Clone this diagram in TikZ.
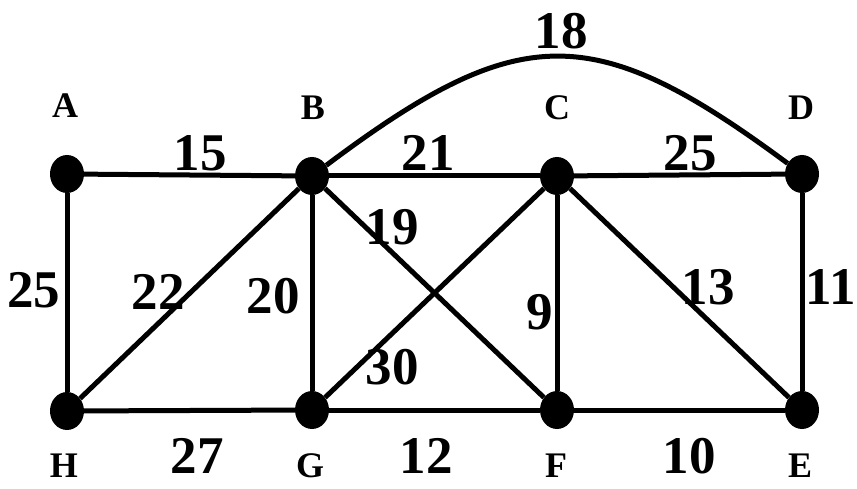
\documentclass[tikz,border=0pt]{standalone}
\usepackage{fontspec}
\setmainfont{Liberation Serif}
\usetikzlibrary{shapes.geometric}
\tikzset{
  vertex/.style={ellipse,fill=black,minimum width=34pt,minimum height=38pt,inner sep=0pt},
  vname/.style={font=\fontsize{36}{36}\selectfont\bfseries,inner sep=0pt},
  weight/.style={font=\fontsize{53}{53}\selectfont\bfseries,inner sep=0pt},
  edge/.style={line width=5pt}
}
\begin{document}
\begin{tikzpicture}[x=1pt,y=-1pt]
    \useasboundingbox (0,0) rectangle (857,489);
    % vertices
    \node[vertex] (a) at (67,174) {};
    \node[vertex] (b) at (312,176) {};
    \node[vertex] (c) at (557,176) {};
    \node[vertex] (d) at (802,174) {};
    \node[vertex] (h) at (67,411) {};
    \node[vertex] (g) at (312,410) {};
    \node[vertex] (f) at (557,410) {};
    \node[vertex] (e) at (802,410) {};
    % vertex names
    \node[vname] (la) at (65,106) {A};
    \node[vname] (lb) at (313,108) {B};
    \node[vname] (lc) at (557,108) {C};
    \node[vname] (ld) at (801,108) {D};
    \node[vname] (lh) at (64,466) {H};
    \node[vname] (lg) at (310,466) {G};
    \node[vname] (lf) at (556,466) {F};
    \node[vname] (le) at (800,466) {E};
    % edges
    \draw[edge] (a) -- (b);
    \draw[edge] (b) -- (c);
    \draw[edge] (c) -- (d);
    \draw[edge] (h) -- (g);
    \draw[edge] (g) -- (f);
    \draw[edge] (f) -- (e);
    \draw[edge] (a) -- (h);
    \draw[edge] (b) -- (g);
    \draw[edge] (c) -- (f);
    \draw[edge] (d) -- (e);
    \draw[edge] (h) -- (b);
    \draw[edge] (b) -- (f);
    \draw[edge] (g) -- (c);
    \draw[edge] (c) -- (e);
    \draw[edge] (b) .. controls (520,20) and (594,20) .. (d);
    % weights
    \node[weight] (wab) at (200,153) {15};
    \node[weight] (wbc) at (428,153) {21};
    \node[weight] (wcd) at (690,153) {25};
    \node[weight] (wbd) at (561,31) {18};
    \node[weight] (wah) at (34,290) {25};
    \node[weight] (whb) at (158,292) {22};
    \node[weight] (wbg) at (273,296) {20};
    \node[weight] (wbf) at (392,227) {19};
    \node[weight] (wgc) at (392,367) {30};
    \node[weight] (wcf) at (540,312) {9};
    \node[weight] (wce) at (708,287) {13};
    \node[weight] (wde) at (831,287) {11};
    \node[weight] (whg) at (197,456) {27};
    \node[weight] (wgf) at (426,456) {12};
    \node[weight] (wfe) at (689,456) {10};
\end{tikzpicture}
\end{document}
